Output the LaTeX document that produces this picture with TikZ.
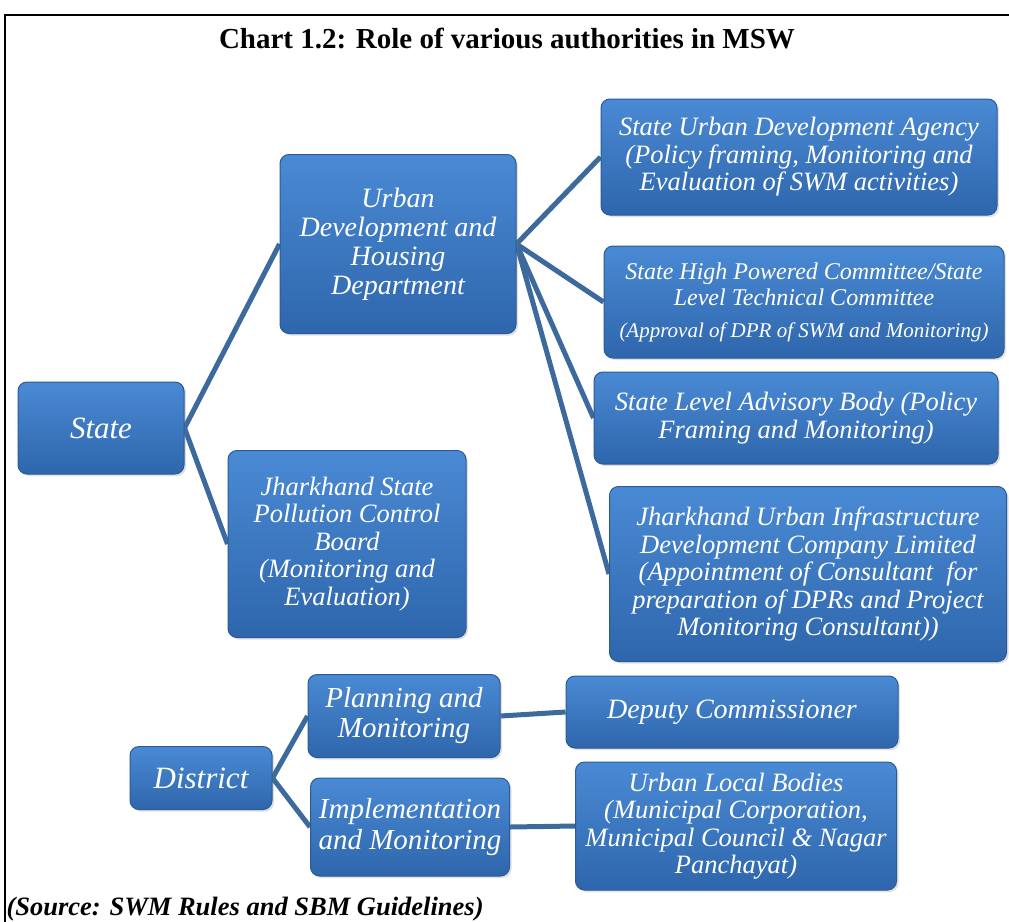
\documentclass[tikz,border=0pt]{standalone}
\usepackage{fontspec}
\setmainfont{Liberation Serif}
\usetikzlibrary{backgrounds,shadows}
\definecolor{boxtop}{HTML}{4A8AD4}
\definecolor{boxbot}{HTML}{2E66AC}
\definecolor{boxedge}{HTML}{2A5B98}
\definecolor{linkc}{HTML}{3C6A9C}
\tikzset{
  box/.style={rectangle, rounded corners=9pt, top color=boxtop, bottom color=boxbot,
    draw=boxedge, line width=1pt, text=white, align=center, inner sep=2pt,
    font=\itshape\fontsize{26.5}{27.5}\selectfont,
    drop shadow={shadow xshift=2pt, shadow yshift=-2pt, opacity=0.25}},
  link/.style={draw=linkc, line width=5pt},
  frameline/.style={line width=2pt, draw=black},
}
\begin{document}
\begin{tikzpicture}[x=1pt,y=-1pt]
\useasboundingbox (0,0) rectangle (1009,921);
\draw[frameline] (5,925) -- (5,15) -- (1012,15);
\node[font=\bfseries\fontsize{29}{32}\selectfont] (title) at (507,39) {Chart 1.2: Role of various authorities in MSW};
\node[anchor=west, font=\bfseries\itshape\fontsize{26.5}{28}\selectfont] (src) at (3,909) {(Source: SWM Rules and SBM Guidelines)};

\node[box, minimum width=166pt, minimum height=92pt, font=\itshape\fontsize{31}{33}\selectfont] (state) at (101,428) {State};
\node[box, minimum width=236pt, minimum height=179pt, font=\itshape\fontsize{28}{29}\selectfont] (udhd) at (398,244) {Urban\\Development and\\Housing\\Department};
\node[box, minimum width=238pt, minimum height=187pt] (jspcb) at (347,544) {Jharkhand State\\Pollution Control\\Board\\(Monitoring and\\Evaluation)};
\node[box, minimum width=396pt, minimum height=116pt] (suda) at (799,157) {State Urban Development Agency\\(Policy framing, Monitoring and\\Evaluation of SWM activities)};
\node[box, minimum width=400pt, minimum height=112pt, font=\itshape\fontsize{24}{26}\selectfont] (shpc) at (804,302) {State High Powered Committee/State\\Level Technical Committee\\[6pt]{\fontsize{21}{24}\selectfont (Approval of DPR of SWM and Monitoring)}};
\node[box, minimum width=404pt, minimum height=92pt] (slab) at (796,418) {State Level Advisory Body (Policy\\Framing and Monitoring)};
\node[box, minimum width=397pt, minimum height=175pt] (juidco) at (808,574) {Jharkhand Urban Infrastructure\\Development Company Limited\\(Appointment of Consultant \ for\\preparation of DPRs and Project\\Monitoring Consultant))};

\node[box, minimum width=142pt, minimum height=63pt, font=\itshape\fontsize{31}{33}\selectfont] (district) at (201,778) {District};
\node[box, minimum width=192pt, minimum height=83pt, font=\itshape\fontsize{29}{30}\selectfont] (plan) at (404,716) {Planning and\\Monitoring};
\node[box, minimum width=199pt, minimum height=98pt, font=\itshape\fontsize{29}{31}\selectfont] (impl) at (410,827) {Implementation\\and Monitoring};
\node[box, minimum width=332pt, minimum height=72pt, font=\itshape\fontsize{28}{30}\selectfont] (dc) at (732,712) {Deputy Commissioner};
\node[box, minimum width=321pt, minimum height=128pt] (ulb) at (736,826) {Urban Local Bodies\\(Municipal Corporation,\\Municipal Council \& Nagar\\Panchayat)};

\begin{scope}[on background layer]
\fill[white] (0,0) rectangle (1009,921);
\draw[link] (state.east) -- (udhd.west);
\draw[link] (state.east) -- (jspcb.west);
\draw[link] (udhd.east) -- (suda.west);
\draw[link] (udhd.east) -- (shpc.west);
\draw[link] (udhd.east) -- (slab.west);
\draw[link] (udhd.east) -- (juidco.west);
\draw[link] (district.east) -- (plan.west);
\draw[link] (district.east) -- (impl.west);
\draw[link] (plan.east) -- (dc.west);
\draw[link] (impl.east) -- (ulb.west);
\end{scope}
\end{tikzpicture}
\end{document}
